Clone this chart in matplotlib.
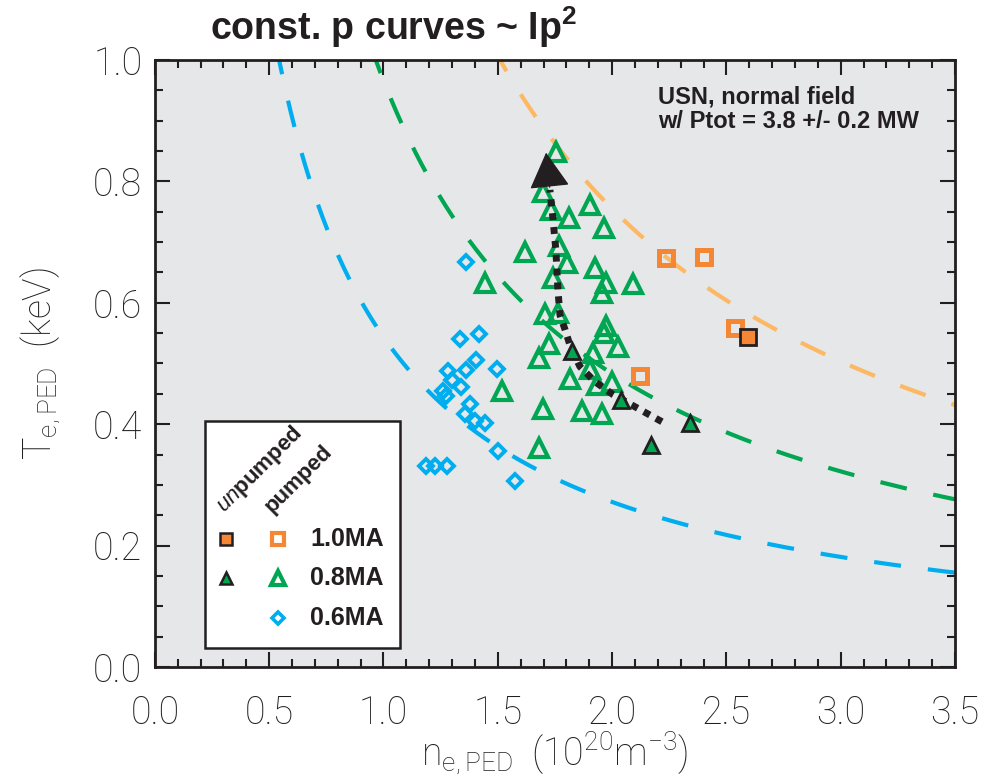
import matplotlib
matplotlib.use("Agg")
import matplotlib.pyplot as plt
import numpy as np
from matplotlib.patches import Rectangle
from matplotlib.ticker import MultipleLocator

# constant-pressure curves, T = p_ref * Ip^2 / n
ip_curves = [0.6, 0.8, 1.0]
curve_colors = ["#00AEEF", "#00A651", "#FDB863"]
p_ref = 1.51  # keV * 1e20 m^-3 at Ip = 1.0 MA

# 1.0 MA
ne_1p0_unpumped = [2.595]
te_1p0_unpumped = [0.543]
ne_1p0_pumped = [2.235, 2.402, 2.537, 2.122]
te_1p0_pumped = [0.674, 0.676, 0.559, 0.479]

# 0.8 MA
ne_0p8_unpumped = [1.823, 2.037, 2.340, 2.171]
te_0p8_unpumped = [0.520, 0.439, 0.402, 0.365]
ne_0p8_pumped = [1.754, 1.696, 1.732, 1.813, 1.903, 1.964, 1.619, 1.767, 1.804,
                 1.925, 1.973, 1.954, 2.092, 1.742, 1.444, 1.706, 1.764, 1.973,
                 1.964, 1.724, 1.681, 1.918, 2.027, 1.903, 1.818, 1.932, 2.001,
                 1.517, 1.696, 1.867, 1.958, 1.681]
te_0p8_pumped = [0.849, 0.783, 0.753, 0.739, 0.761, 0.723, 0.683, 0.693, 0.665,
                 0.657, 0.632, 0.616, 0.631, 0.641, 0.633, 0.582, 0.584, 0.562,
                 0.550, 0.532, 0.509, 0.518, 0.527, 0.491, 0.474, 0.465, 0.470,
                 0.454, 0.425, 0.421, 0.416, 0.361]

# 0.6 MA
ne_0p6_pumped = [1.360, 1.334, 1.417, 1.404, 1.363, 1.498, 1.283, 1.298, 1.341,
                 1.261, 1.273, 1.378, 1.356, 1.400, 1.444, 1.502, 1.575, 1.188,
                 1.225, 1.276]
te_0p6_pumped = [0.668, 0.540, 0.548, 0.506, 0.489, 0.491, 0.487, 0.473, 0.462,
                 0.454, 0.446, 0.434, 0.416, 0.405, 0.402, 0.355, 0.306, 0.331,
                 0.331, 0.331]

# pumping trajectory at 0.8 MA
trend_ne = [2.218, 2.108, 2.003, 1.925, 1.859, 1.815, 1.794, 1.772, 1.763,
            1.754, 1.741, 1.728]
trend_te = [0.404, 0.427, 0.449, 0.470, 0.495, 0.531, 0.556, 0.580, 0.621,
            0.687, 0.740, 0.786]
arrow_tip = (1.710, 0.852)

orange = "#F58634"
green = "#00A651"
blue = "#00AEEF"
ink = "#231F20"

plt.rcParams["font.family"] = ["Roboto", "DejaVu Sans"]
plt.rcParams["font.weight"] = "light"
plt.rcParams["mathtext.fontset"] = "custom"
plt.rcParams["mathtext.rm"] = "Roboto:light"
plt.rcParams["mathtext.it"] = "Liberation Sans:italic"
plt.rcParams["mathtext.bf"] = "Liberation Sans:bold"
plt.rcParams["mathtext.default"] = "rm"

fig = plt.figure(figsize=(9.99, 7.8), dpi=100)
ax = fig.add_axes([0.155, 0.145, 0.801, 0.778])
ax.set_facecolor("#E6E7E9")

for ip, col in zip(ip_curves, curve_colors):
    c = p_ref * ip ** 2
    n = np.linspace(c * 0.98, 3.6, 400)
    ax.plot(n, c / n, color=col, lw=3, dashes=(6.5, 6.5), zorder=2)

ax.plot(ne_1p0_pumped, te_1p0_pumped, ls="none", marker="s", ms=10,
        mfc="none", mec=orange, mew=3.6, zorder=3)
ax.plot(ne_0p8_pumped, te_0p8_pumped, ls="none", marker="^", ms=12.5,
        mfc="none", mec=green, mew=3.0, zorder=3)
ax.plot(ne_0p6_pumped, te_0p6_pumped, ls="none", marker="D", ms=7,
        mfc="none", mec=blue, mew=2.8, zorder=3)

ax.plot(trend_ne, trend_te, color=ink, lw=5, dashes=(1, 1), zorder=4)
ax.annotate("", xy=arrow_tip, xytext=(trend_ne[-1], trend_te[-1]),
            arrowprops=dict(arrowstyle="-|>,head_length=2.3,head_width=1.3",
                            color=ink, lw=1, mutation_scale=10),
            zorder=4)

ax.plot(ne_1p0_unpumped, te_1p0_unpumped, ls="none", marker="s", ms=11,
        mfc=orange, mec=ink, mew=2.0, zorder=5)
ax.plot(ne_0p8_unpumped, te_0p8_unpumped, ls="none", marker="^", ms=11,
        mfc=green, mec=ink, mew=2.0, zorder=5)

ax.set_xlim(0, 3.5)
ax.set_ylim(0, 1.0)
ax.xaxis.set_major_locator(MultipleLocator(0.5))
ax.xaxis.set_minor_locator(MultipleLocator(0.1))
ax.yaxis.set_major_locator(MultipleLocator(0.2))
ax.yaxis.set_minor_locator(MultipleLocator(0.05))
ax.xaxis.set_major_formatter(lambda v, pos: f"{v:.1f}")
ax.yaxis.set_major_formatter(lambda v, pos: f"{v:.1f}")
ax.tick_params(which="both", direction="in", top=True, right=True,
               width=1.5, colors=ink, labelcolor=ink)
ax.tick_params(which="major", length=11, labelsize=27)
ax.tick_params(which="minor", length=5.5)
ax.tick_params(axis="x", pad=20)
ax.tick_params(axis="y", pad=9)
for s in ax.spines.values():
    s.set_linewidth(2)
    s.set_color(ink)

ax.set_xlabel(r"$\mathrm{n_{e,PED}}$  $\mathrm{(10^{20}m^{-3})}$",
              fontsize=27, color=ink, fontweight="light")
ax.set_ylabel(r"$\mathrm{T_{e,PED}}$  $\mathrm{(keV)}$", fontsize=27,
              color=ink, fontweight="light")
ax.xaxis.set_label_coords(0.5, -0.103)
ax.yaxis.set_label_coords(-0.115, 0.5)

fig.text(0.21, 0.949, r"const. p curves ~ Ip$^\mathbf{2}$", fontsize=27,
         family="Liberation Sans", weight="bold", color=ink,
         va="baseline")

bold = dict(family="Liberation Sans", weight="bold", color=ink)
ax.text(0.629, 0.929, "USN, normal field", transform=ax.transAxes,
        fontsize=17, va="baseline", **bold)
ax.text(0.629, 0.888, "w/ Ptot = 3.8 +/- 0.2 MW", transform=ax.transAxes,
        fontsize=17, va="baseline", **bold)

# legend box
ax.add_patch(Rectangle((0.0625, 0.031), 0.2435, 0.374, transform=ax.transAxes,
                       facecolor="white", edgecolor=ink, lw=1.8,
                       zorder=6))
ax.text(0.086, 0.253, r"$\mathit{un}\mathbf{pumped}$", transform=ax.transAxes,
        fontsize=16, rotation=45, rotation_mode="anchor", ha="left",
        va="baseline", color=ink, zorder=7)
ax.text(0.146, 0.253, "pumped", transform=ax.transAxes, fontsize=16,
        rotation=45, rotation_mode="anchor", ha="left", va="baseline",
        zorder=7, **bold)
col1, col2, col_txt = 0.089, 0.154, 0.194
rows = [0.210, 0.146, 0.081]
leg_kw = dict(transform=ax.transAxes, ls="none", zorder=7, clip_on=False)
ax.plot([col1], [rows[0]], marker="s", ms=9, mfc=orange, mec=ink,
        mew=1.8, **leg_kw)
ax.plot([col2], [rows[0]], marker="s", ms=8, mfc="none", mec=orange,
        mew=3.0, **leg_kw)
ax.plot([col1], [rows[1]], marker="^", ms=9, mfc=green, mec=ink,
        mew=1.8, **leg_kw)
ax.plot([col2], [rows[1]], marker="^", ms=10, mfc="none", mec=green,
        mew=3.0, **leg_kw)
ax.plot([col2], [rows[2]], marker="D", ms=6, mfc="none", mec=blue,
        mew=2.6, **leg_kw)
for y, lab in zip(rows, ["1.0MA", "0.8MA", "0.6MA"]):
    ax.text(col_txt, y, lab, transform=ax.transAxes, fontsize=18,
            va="center", zorder=7, **bold)

fig.savefig("out.png", dpi=100, facecolor="white")
